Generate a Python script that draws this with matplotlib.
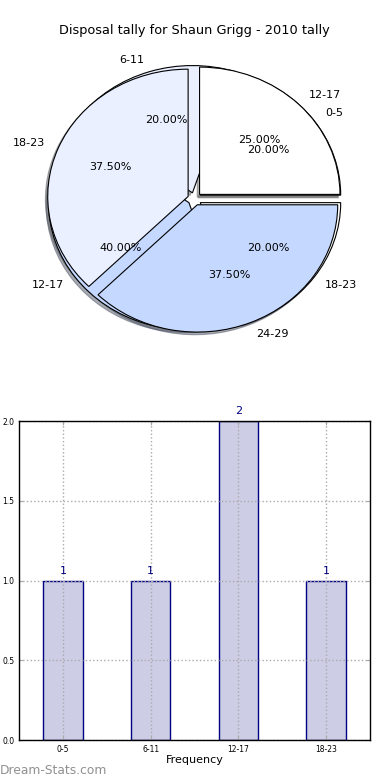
import matplotlib
matplotlib.use('Agg')
from matplotlib import pyplot as plt
import numpy as np

# 2010 tally (first pie and bars)
cats = ['0-5', '6-11', '12-17', '18-23']
tally = [1, 1, 2, 1]
# second pie overlaid on the same axes
cats2 = ['12-17', '18-23', '24-29']
tally2 = [2, 3, 3]

pie_cols = ['white', '#eaf0ff', '#c5d8ff']
title = 'Disposal tally for Shaun Grigg - 2010 tally'

fig = plt.figure(figsize=(3.9, 7.8), dpi=100)
ax1 = fig.add_axes([0.049, 0.541, 0.90, 0.408])
ax2 = fig.add_axes([0.049, 0.051, 0.90, 0.409])

wp = {'edgecolor': 'black', 'linewidth': 0.8}
tp = {'fontsize': 8}
sh = {'ox': -0.012, 'oy': -0.015, 'shade': 0.6}
ax1.pie(tally, labels=cats, explode=[0.05] * len(tally), autopct='%1.2f%%',
        colors=[pie_cols[i % 3] for i in range(len(tally))], shadow=sh,
        wedgeprops=wp, textprops=tp)
ax1.pie(tally2, labels=cats2, explode=[0.05] * len(tally2), autopct='%1.2f%%',
        colors=pie_cols, shadow=sh, wedgeprops=wp, textprops=tp)
ax1.set_aspect('auto')
ax1.set_xlim(-1.25, 1.25)
ax1.set_ylim(-1.25, 1.25)
ax1.set_title(title, fontsize=9.3, pad=4)

x = np.arange(len(cats))
bars = ax2.bar(x, tally, width=0.45, color='#cdcde6', edgecolor='navy', linewidth=1)
for b, v in zip(bars, tally):
    ax2.text(b.get_x() + b.get_width() / 2, v + 0.03, str(v), ha='center', va='bottom',
             color='navy', fontsize=8)
ax2.set_xlim(-0.5, 3.5)
ax2.set_ylim(0, 2)
ax2.set_xticks(x)
ax2.set_xticklabels(cats)
ax2.set_yticks([0, 0.5, 1.0, 1.5, 2.0])
ax2.set_yticklabels(['0.0', '0.5', '1.0', '1.5', '2.0'])
ax2.tick_params(labelsize=5.5, direction='in', top=True, right=True, length=3, color='#aaaaaa')
ax2.grid(True, linestyle=':', color='#aaaaaa', linewidth=1)
ax2.set_axisbelow(False)
ax2.set_xlabel('Frequency', fontsize=8, labelpad=1)
for s in ax2.spines.values():
    s.set_linewidth(1)
    s.set_zorder(3)

fig.text(0.0, 0.0075, 'Dream-Stats.com', color='#909090', fontsize=8.8)

fig.savefig('out.png', dpi=100)
